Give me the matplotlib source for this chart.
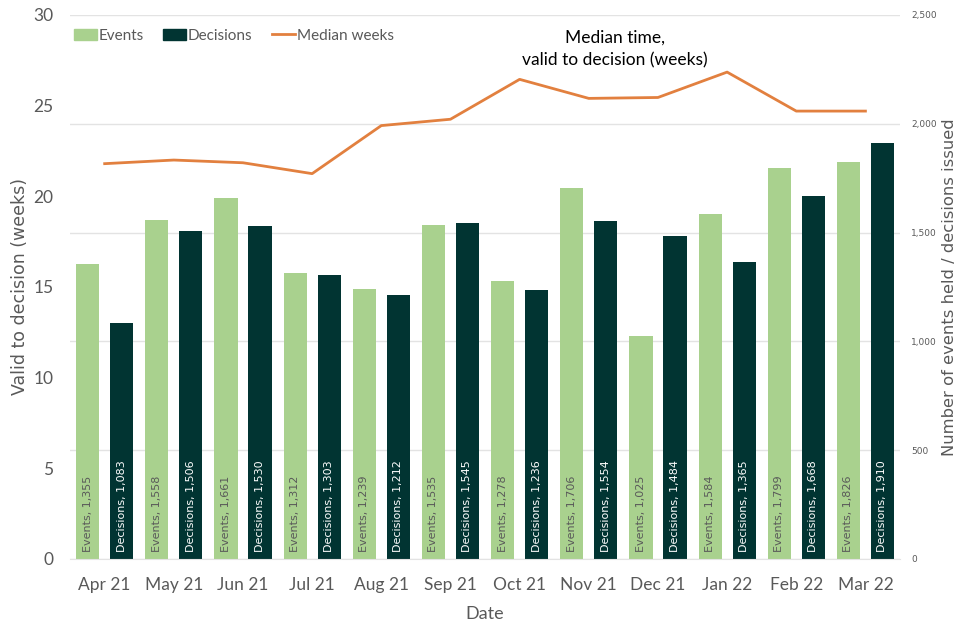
import matplotlib
matplotlib.use("Agg")
import matplotlib.pyplot as plt
from matplotlib.patches import Patch
from matplotlib.lines import Line2D
from matplotlib.ticker import FuncFormatter
import numpy as np

months = ["Apr 21", "May 21", "Jun 21", "Jul 21", "Aug 21", "Sep 21",
          "Oct 21", "Nov 21", "Dec 21", "Jan 22", "Feb 22", "Mar 22"]
events = [1355, 1558, 1661, 1312, 1239, 1535, 1278, 1706, 1025, 1584, 1799, 1826]
decisions = [1083, 1506, 1530, 1303, 1212, 1545, 1236, 1554, 1484, 1365, 1668, 1910]
median_weeks = [21.8, 22.0, 21.85, 21.25, 23.9, 24.25, 26.45, 25.4, 25.45, 26.85, 24.7, 24.7]

C_EV = "#A9D18E"
C_DEC = "#013432"
C_LINE = "#E2803F"
GRAY = "#595959"
NARROW = ["Lato", "DejaVu Sans"]

fig = plt.figure(figsize=(9.6, 6.4), dpi=100)
ax = fig.add_axes([0.073, 0.1266, 0.8645, 0.85])
ax2 = ax.twinx()
ax.set_zorder(2)
ax2.set_zorder(1)
ax.patch.set_visible(False)

x = np.arange(len(months))
w = 0.335
off = 0.246
ax2.bar(x - off, events, width=w, color=C_EV, zorder=2)
ax2.bar(x + off, decisions, width=w, color=C_DEC, zorder=2)
for i in range(len(months)):
    ax2.annotate(f"Events, {events[i]:,}", (x[i] - off, 0), xytext=(0, 5),
                 textcoords="offset points", rotation=90, ha="center", va="bottom",
                 fontsize=8, color=GRAY, zorder=3)
    ax2.annotate(f"Decisions, {decisions[i]:,}", (x[i] + off, 0), xytext=(0, 5),
                 textcoords="offset points", rotation=90, ha="center", va="bottom",
                 fontsize=8, color="white", zorder=3)

ax.plot(x, median_weeks, color=C_LINE, lw=2.0, zorder=3)

ax.set_xlim(-0.5, len(months) - 0.5)
ax.set_ylim(0, 30)
ax2.set_ylim(0, 2500)
ax.set_yticks(range(0, 31, 5))
ax2.set_yticks(range(0, 2501, 500))
ax2.yaxis.set_major_formatter(FuncFormatter(lambda v, p: f"{int(v):,}"))
ax.set_xticks(x)
ax.set_xticklabels(months)

ax2.yaxis.grid(True, color="#E3E3E3", lw=1)
ax2.set_axisbelow(True)
for a in (ax, ax2):
    for s in a.spines.values():
        s.set_visible(False)
ax.spines["bottom"].set_visible(True)
ax.spines["bottom"].set_color("#E3E3E3")

ax.tick_params(axis="x", length=0, labelsize=12.5, colors=GRAY, pad=13)
ax.tick_params(axis="y", length=0, labelsize=12.5, colors=GRAY, pad=12)
ax2.tick_params(axis="y", length=0, labelsize=6.5, colors=GRAY, pad=8)
for lab in ax.get_xticklabels() + ax.get_yticklabels():
    lab.set_family(NARROW)

ax.set_xlabel("Date", fontsize=13, color=GRAY, labelpad=9, family=NARROW)
ax.set_ylabel("Valid to decision (weeks)", fontsize=12.5, color=GRAY, labelpad=3)
ax2.set_ylabel("Number of events held / decisions issued", fontsize=11.8, color=GRAY,
               labelpad=4)

handles = [Patch(color=C_EV, label="Events"),
           Patch(color=C_DEC, label="Decisions"),
           Line2D([0], [0], color=C_LINE, lw=2, label="Median weeks")]
leg = ax.legend(handles=handles, loc="upper left", bbox_to_anchor=(-0.012, 1.0), ncol=3,
                frameon=False, prop={"family": NARROW, "size": 11}, handlelength=1.5,
                handletextpad=0.1, columnspacing=1.3)
for t in leg.get_texts():
    t.set_color(GRAY)

ax.text(7.38, 28.1, "Median time,\nvalid to decision (weeks)", ha="center", va="center",
        fontsize=12.5, color="black", linespacing=1.5, family=NARROW)

fig.savefig("out.png", dpi=100, facecolor="white")
